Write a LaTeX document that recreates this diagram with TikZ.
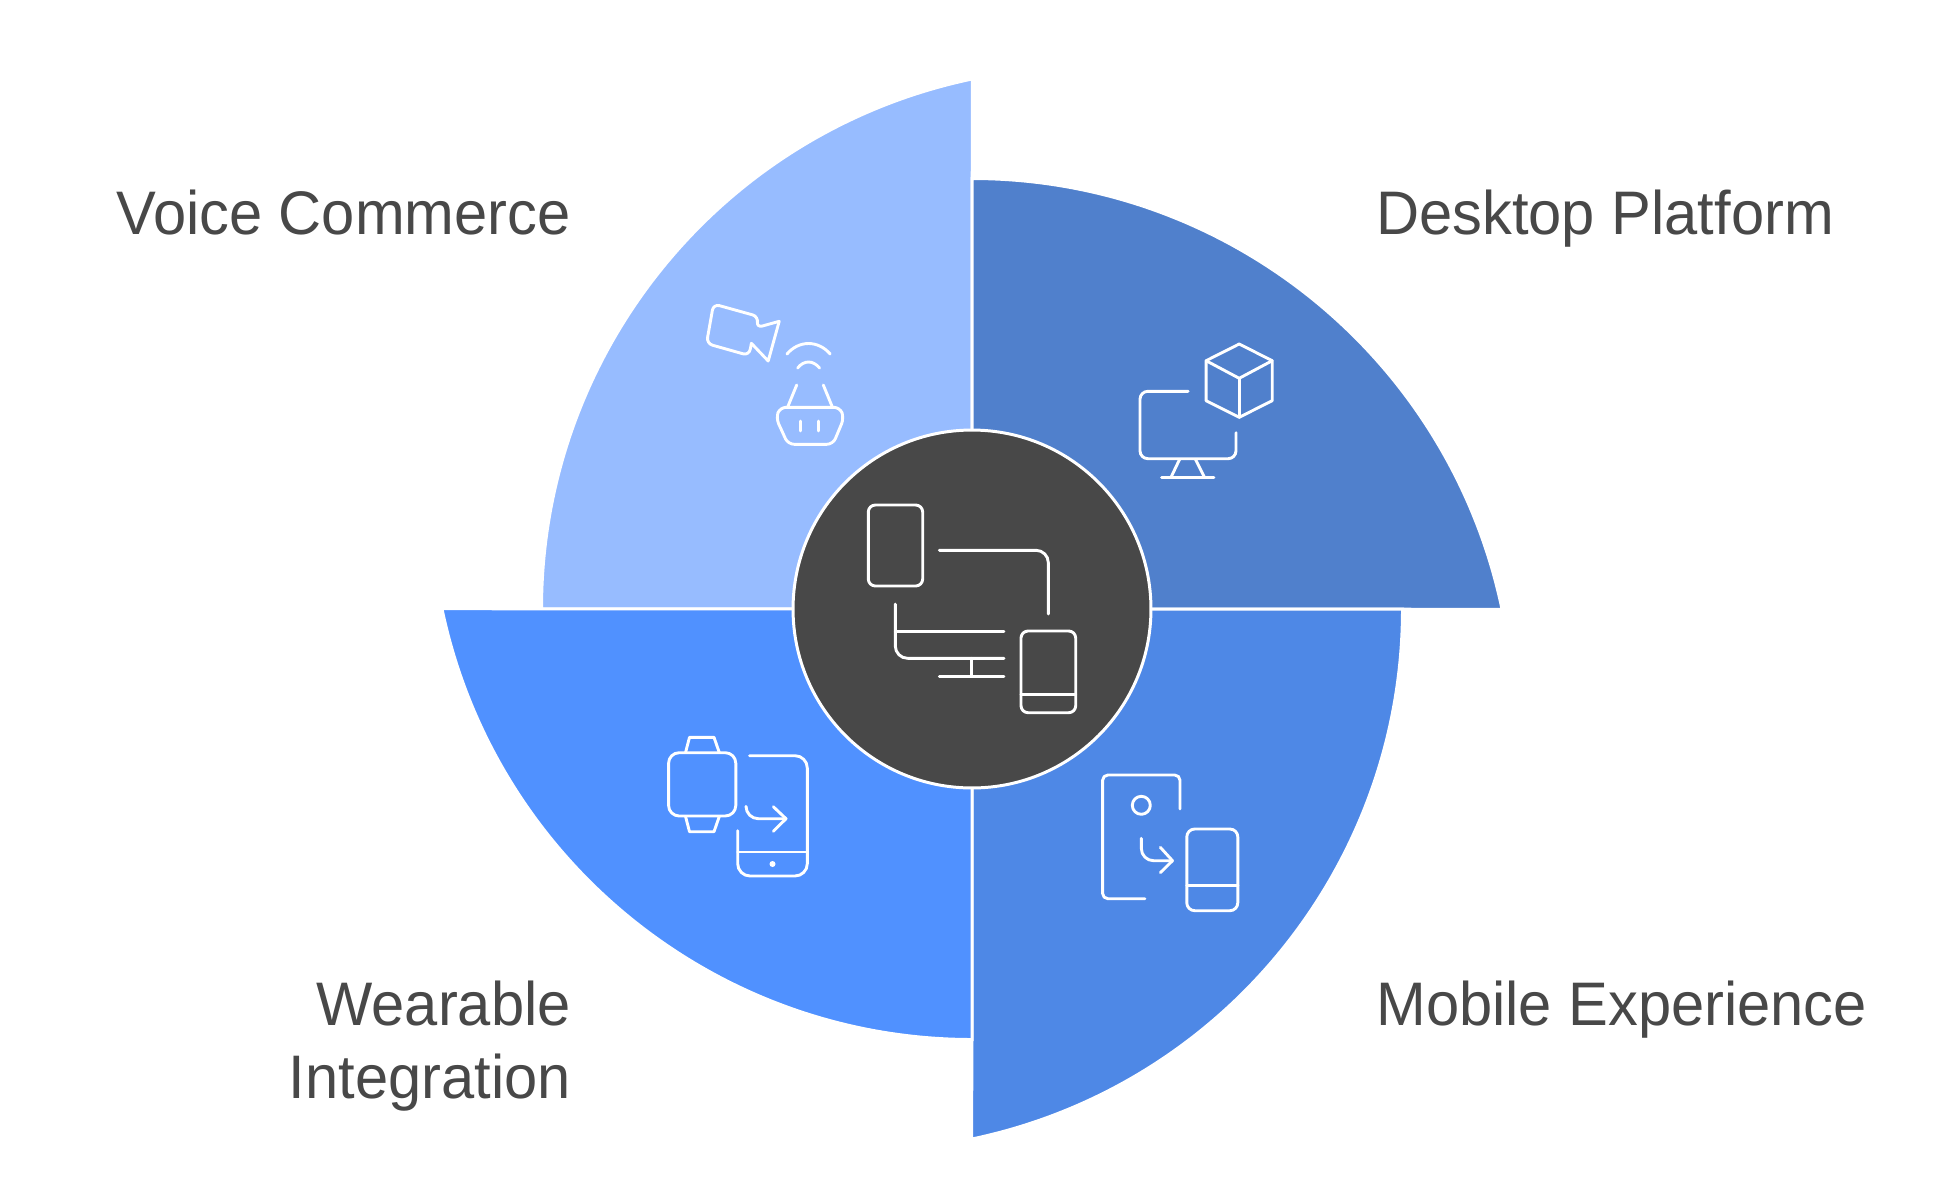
\documentclass[tikz,border=0pt]{standalone}
\usepackage{fontspec}
\setmainfont[FakeStretch=0.97]{Liberation Sans}
\usepackage{tikz}

\definecolor{voiceblue}{HTML}{97BCFF}
\definecolor{desktopblue}{HTML}{5080CC}
\definecolor{mobileblue}{HTML}{4E88E6}
\definecolor{wearblue}{HTML}{5091FF}
\definecolor{hubgray}{HTML}{484848}
\tikzset{
    wedge/.style={draw=white, line width=1.7pt, line join=miter},
    hubdisc/.style={circle, draw=white, fill=hubgray, line width=1.7pt, minimum size=7.16cm, inner sep=0pt},
    iconline/.style={draw=white, line width=1.65pt, line cap=round, line join=round},
    caption/.style={text=hubgray, inner sep=0pt, font=\fontsize{35}{41.4}\selectfont},
}

\begin{document}
\begin{tikzpicture}[x=0.02cm,y=-0.02cm]
    \useasboundingbox (0,0) rectangle (1944,1194);

    \foreach \a/\c in {0/voiceblue, 90/desktopblue, 180/mobileblue, 270/wearblue}{
        \draw[wedge, fill=\c, rotate around={-\a:(972,609)}]
            (972,609) -- (541.5,609) arc[start angle=180, end angle=258.2, radius=541.5] -- cycle;
    }
    \node[hubdisc] (hub) at (972,609) {};

    \node[caption, anchor=base east] (voice) at (571,234) {Voice Commerce};
    \node[caption, anchor=base west] (desktop) at (1376,234) {Desktop Platform};
    \node[caption, anchor=base west] (mobile) at (1376,1025) {Mobile Experience};
    \node[caption, anchor=base east] (wearable) at (571,1025) {Wearable};
    \node[caption, anchor=base east] (integration) at (571,1098) {Integration};

    % hub
    \draw[iconline, rounded corners=4pt] (868.3,505) rectangle (922.7,586);
    \draw[iconline, rounded corners=7pt] (939.3,550.3) -- (1048.3,550.3) -- (1048.3,614);
    \draw[iconline, rounded corners=7pt] (895.3,604) -- (895.3,658.3) -- (1004,658.3);
    \draw[iconline] (895.3,631.3) -- (1004,631.3);
    \draw[iconline] (971.7,658.3) -- (971.7,676.3);
    \draw[iconline] (939.3,676.3) -- (1004,676.3);
    \draw[iconline, rounded corners=4pt] (1021,631) rectangle (1075.7,712.7);
    \draw[iconline] (1021,694.3) -- (1075.7,694.3);

    % voice
    \draw[iconline, rounded corners=3.5pt] (713.5,304) -- (758.5,316.5) -- (756.3,327.7)
        [sharp corners] -- (779.2,321.3) -- (768.2,361) -- (751.4,343.3)
        [rounded corners=3.5pt] -- (749,355.5) -- (706.5,343.5) -- cycle;
    \draw[iconline] (787,354) .. controls (799,340) and (818,340) .. (830.2,354);
    \draw[iconline] (797.6,368) .. controls (804,360) and (813,360) .. (819.6,368);
    \draw[iconline] (796.7,385) -- (787.8,406.7);
    \draw[iconline] (823.3,385) -- (832.2,406.7);
    \draw[iconline, rounded corners=3.5pt] (780,407.3) -- (840,407.3) -- (844,418) -- (833,444.3)
        -- (788,444.3) -- (776,418) -- cycle;
    \draw[iconline] (800.8,421) -- (800.8,431);
    \draw[iconline] (818.8,421) -- (818.8,431);

    % desktop
    \draw[iconline] (1239.2,344) -- (1272.2,360.7) -- (1272.2,400.7) -- (1239.2,417.3)
        -- (1206.1,400.7) -- (1206.1,360.7) -- cycle;
    \draw[iconline] (1206.1,360.7) -- (1239.2,378.3) -- (1272.2,360.7);
    \draw[iconline] (1239.2,378.3) -- (1239.2,417.3);
    \draw[iconline, rounded corners=4.5pt] (1188.2,391.3) -- (1140,391.3) -- (1140,458.7)
        -- (1236,458.7) -- (1236,432.7);
    \draw[iconline] (1179.6,459.3) -- (1171,477.3);
    \draw[iconline] (1195.5,459.3) -- (1204.5,477.3);
    \draw[iconline] (1161.6,477.3) -- (1213.9,477.3);

    % mobile
    \draw[iconline, rounded corners=3pt] (1180,809) -- (1180,775) -- (1102.6,775)
        -- (1102.6,898.7) -- (1144.9,898.7);
    \draw[iconline] (1141.3,805.3) circle[radius=9];
    \draw[iconline, rounded corners=7pt] (1141.3,838.3) -- (1141.3,860.7) -- (1172.5,860.7);
    \draw[iconline] (1160.3,847.3) -- (1172.5,860.7) -- (1160.3,872.7);
    \draw[iconline, rounded corners=4.5pt] (1186.8,829) rectangle (1237.8,910.7);
    \draw[iconline] (1186.8,885.7) -- (1237.8,885.7);

    % wearable
    \draw[iconline, rounded corners=6pt] (668.6,752.7) rectangle (735.8,816);
    \draw[iconline] (685.6,752.3) -- (689.5,737.3) -- (714,737.3) -- (719.2,752.3);
    \draw[iconline] (685.6,816.7) -- (689.5,831.7) -- (714,831.7) -- (719.2,816.7);
    \draw[iconline, rounded corners=7pt] (749.6,755.7) -- (807.3,755.7) -- (807.3,876)
        -- (737.7,876) -- (737.7,830.7);
    \draw[iconline] (737.7,852) -- (807.3,852);
    \fill[white] (772.5,864) circle[radius=3];
    \draw[iconline, rounded corners=7pt] (746,806.7) -- (746,818.7) -- (786,818.7);
    \draw[iconline] (773.3,806.7) -- (786,818.7) -- (773.3,831.3);
\end{tikzpicture}
\end{document}
